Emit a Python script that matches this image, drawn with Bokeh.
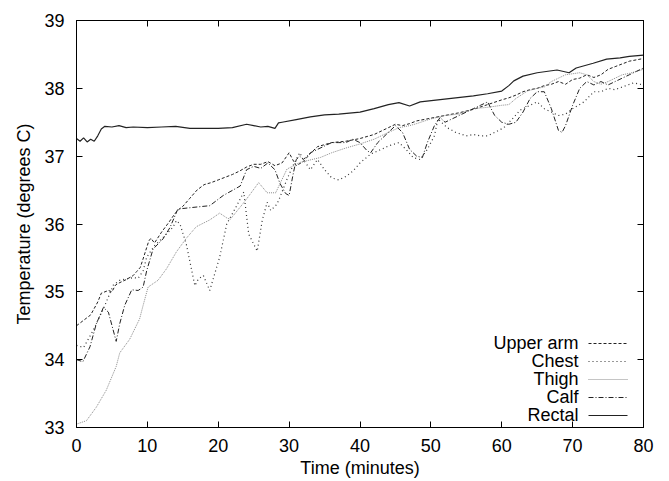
from bokeh.plotting import figure
from bokeh.models import (Range1d, LinearAxis, SingleIntervalTicker, Label, Arrow,
                          CustomLabelingPolicy)
from bokeh.embed import file_html
from bokeh.resources import INLINE

# ---- data ----
rectal_t = [0, 0.5, 1, 1.5, 2, 2.5, 3, 3.5, 4, 5, 6, 7, 8, 10, 12, 14, 16, 18, 20, 22, 24, 25, 26, 27, 28,
            28.5, 29, 31, 33, 35, 37, 40, 42, 44, 45.5, 47, 48.5, 51, 53.5, 56, 58, 60, 61, 61.7, 63, 65,
            67.8, 69.5, 70.5, 72.9, 74.8, 76.7, 78, 80]
rectal_v = [37.26, 37.22, 37.27, 37.21, 37.25, 37.22, 37.30, 37.40, 37.44, 37.43, 37.45, 37.42, 37.43, 37.42,
            37.43, 37.44, 37.41, 37.41, 37.41, 37.42, 37.47, 37.45, 37.43, 37.44, 37.41, 37.49, 37.50, 37.54,
            37.58, 37.61, 37.62, 37.65, 37.70, 37.76, 37.79, 37.74, 37.80, 37.83, 37.86, 37.89, 37.92, 37.96,
            38.04, 38.11, 38.18, 38.23, 38.27, 38.23, 38.30, 38.37, 38.43, 38.45, 38.47, 38.49]

upper_t = [0, 1, 2, 3, 3.5, 4.5, 5, 5.5, 6, 7, 8, 8.5, 9, 9.5, 10.2, 10.5, 11, 12, 13, 14, 14.5, 15, 16, 17,
           18, 19, 20, 21, 22, 23, 24, 25, 26, 27, 28, 29, 30, 30.5, 31, 32, 33, 34, 36, 38, 40, 42, 44, 45,
           46, 47, 48, 50, 52, 54, 56, 58, 60, 61, 62, 63, 64, 65, 66, 67, 68, 69, 70, 71, 72, 73, 74, 75,
           76, 77, 78, 79, 80]
upper_v = [34.5, 34.58, 34.66, 34.85, 34.98, 35.02, 35.0, 35.1, 35.13, 35.18, 35.24, 35.3, 35.36, 35.52,
           35.75, 35.79, 35.72, 35.88, 36.02, 36.17, 36.22, 36.26, 36.38, 36.5, 36.58, 36.61, 36.65, 36.69,
           36.73, 36.78, 36.84, 36.88, 36.88, 36.92, 36.86, 36.9, 37.05, 36.95, 36.86, 36.92, 37.04, 37.14,
           37.2, 37.22, 37.26, 37.32, 37.42, 37.47, 37.45, 37.48, 37.52, 37.56, 37.6, 37.64, 37.69, 37.76,
           37.83, 37.86, 37.9, 37.95, 37.98, 38.0, 38.04, 38.06, 38.1, 38.06, 38.13, 38.15, 38.2, 38.16,
           38.2, 38.28, 38.32, 38.36, 38.4, 38.42, 38.44]

chest_t = [0, 1, 2.3, 3.8, 5.2, 6.1, 8, 8.7, 9.4, 9.9, 11, 12.2, 13.6, 14.1, 14.6, 15.5, 16.7, 17.2, 17.9,
           18.8, 20.2, 21.2, 22.5, 23.6, 24.3, 25.5, 26.2, 26.9, 27.4, 28.1, 28.5, 29.7, 30.5, 31.5, 32, 33,
           34, 35, 36, 37, 38, 39, 40, 41.5, 43, 44, 45.5, 46.5, 47.5, 48.5, 49.5, 50.5, 51, 51.5, 52.3,
           53.5, 55, 56, 57, 58, 59, 60.3, 61.5, 62.6, 64, 65, 66, 67, 68, 69, 70, 71.6, 73, 74, 75, 76, 77,
           78.6, 80]
chest_v = [34.21, 34.18, 34.42, 34.75, 35.1, 35.17, 35.21, 35.2, 35.31, 35.51, 35.68, 35.8, 35.95, 36.05,
           36.0, 35.7, 35.09, 35.19, 35.24, 35.02, 35.51, 36.0, 36.25, 36.47, 35.85, 35.6, 36.05, 36.32, 36.2,
           36.27, 36.34, 36.66, 36.85, 37.05, 36.95, 36.8, 36.95, 36.8, 36.68, 36.65, 36.7, 36.78, 36.9,
           37.03, 37.1, 37.15, 37.2, 37.1, 36.98, 36.95, 37.1, 37.3, 37.55, 37.5, 37.42, 37.35, 37.3, 37.32,
           37.3, 37.3, 37.35, 37.42, 37.55, 37.68, 37.75, 37.8, 37.7, 37.65, 37.6, 37.62, 37.7, 37.8, 37.95,
           37.95, 38.0, 37.98, 38.02, 38.08, 38.05]

thigh_t = [0, 1.4, 2.8, 4.2, 5.6, 6.1, 7.5, 8.9, 9.4, 10.1, 11.5, 12.7, 14.1, 15.5, 16.9, 18.8, 20.2, 21.2,
           21.7, 23.8, 25.7, 26.9, 28.1, 29.7, 31.6, 34.4, 36, 38, 40, 42, 44, 45.5, 47, 48, 50, 52, 54, 56,
           58, 60, 61, 62, 63.6, 65, 66, 67, 68, 69, 71, 72, 73, 74, 75, 76, 77, 78, 79, 80]
thigh_v = [33.05, 33.1, 33.3, 33.55, 33.9, 34.1, 34.3, 34.6, 34.8, 35.07, 35.17, 35.34, 35.59, 35.79, 35.96,
           36.06, 36.16, 36.09, 36.07, 36.34, 36.61, 36.46, 36.46, 36.81, 36.91, 36.98, 37.05, 37.12, 37.18,
           37.25, 37.35, 37.42, 37.45, 37.48, 37.55, 37.6, 37.62, 37.7, 37.72, 37.75, 37.76, 37.85, 37.96,
           38.0, 38.02, 38.1, 38.15, 38.2, 38.23, 38.2, 38.1, 38.06, 38.1, 38.15, 38.2, 38.22, 38.25, 38.28]

calf_t = [0, 0.9, 1.9, 2.8, 3.8, 4.5, 5.6, 6.1, 6.8, 7.8, 8.7, 9.4, 9.9, 10.8, 12.2, 13.2, 14.3, 16, 18.8,
          20.7, 23.1, 24, 25, 26, 27, 28, 28.7, 29.5, 30, 30.5, 31, 31.5, 32, 33, 34, 35, 36, 37, 38, 39, 40,
          41, 41.5, 42.5, 43.8, 45, 46, 47, 48, 48.8, 49.5, 50.5, 51.3, 52, 53, 54, 55, 56, 57, 58, 59, 60,
          61, 62, 63, 64, 65, 66, 67, 68, 68.5, 69, 70, 71, 72, 73, 74, 75, 76, 77, 78, 79, 80]
calf_v = [34.0, 33.97, 34.19, 34.53, 34.77, 34.7, 34.27, 34.53, 34.8, 35.03, 35.02, 35.07, 35.31, 35.63,
          35.78, 35.95, 36.22, 36.24, 36.27, 36.42, 36.56, 36.8, 36.85, 36.82, 36.9, 36.8, 36.6, 36.45, 36.42,
          36.7, 36.95, 37.0, 36.95, 37.05, 37.1, 37.15, 37.2, 37.2, 37.2, 37.25, 37.2, 37.08, 37.05, 37.2,
          37.33, 37.45, 37.35, 37.1, 37.0, 36.98, 37.2, 37.45, 37.57, 37.5, 37.55, 37.6, 37.65, 37.7, 37.75,
          37.8, 37.6, 37.5, 37.47, 37.5, 37.65, 37.85, 37.95, 37.95, 37.7, 37.38, 37.35, 37.45, 37.75, 38.0,
          38.1, 38.05, 38.1, 38.05, 38.1, 38.15, 38.2, 38.25, 38.3]

series_names = ["Upper arm", "Chest", "Thigh", "Calf", "Rectal"]
series_t = [upper_t, chest_t, thigh_t, calf_t, rectal_t]
series_v = [upper_v, chest_v, thigh_v, calf_v, rectal_v]

x_ticks_interval = 10
y_ticks_interval = 1

# ---- styles ----
styles = [
    dict(line_color="#222222", line_dash="3 2", line_width=1),
    dict(line_color="#333333", line_dash="1 3", line_width=1.2),
    dict(line_color="#8a8a8a", line_dash="1 1", line_width=1),
    dict(line_color="#222222", line_dash="5 2 1 2", line_width=1),
    dict(line_color="#222222", line_dash="solid", line_width=1.2),
]
FONT = "Liberation Sans"
FS = "18px"

p = figure(frame_width=567, frame_height=407, output_backend="svg", toolbar_location=None,
           x_range=Range1d(0, 80), y_range=Range1d(33, 39),
           min_border_left=76, min_border_right=18, min_border_top=20, min_border_bottom=54)
p.background_fill_color = "white"
p.border_fill_color = "white"
p.outline_line_color = "black"
p.outline_line_width = 1
p.xgrid.visible = False
p.ygrid.visible = False

for t, v, st in zip(series_t, series_v, styles):
    p.line(t, v, **st)

hide_all = CustomLabelingPolicy(code="for (const i of indices) { indices.unset(i) } return indices")

def style_axis(ax, show_labels=True):
    ax.axis_line_color = "black"
    ax.major_tick_in = 6
    ax.major_tick_out = 0
    ax.minor_tick_line_color = None
    ax.major_tick_line_color = "black"
    ax.major_label_text_font = FONT
    ax.major_label_text_color = "black"
    ax.major_label_text_font_size = FS
    if not show_labels:
        ax.major_label_policy = hide_all
        ax.major_label_standoff = 0

p.xaxis.ticker = SingleIntervalTicker(interval=x_ticks_interval)
p.yaxis.ticker = SingleIntervalTicker(interval=y_ticks_interval)
style_axis(p.xaxis[0])
style_axis(p.yaxis[0])
p.xaxis.major_label_standoff = 7
p.yaxis.major_label_standoff = 8
p.xaxis.axis_label = "Time (minutes)"
p.yaxis.axis_label = "Temperature (degrees C)"
for ax in (p.xaxis[0], p.yaxis[0]):
    ax.axis_label_text_font = FONT
    ax.axis_label_text_font_size = FS
    ax.axis_label_text_font_style = "normal"
    ax.axis_label_text_color = "black"
p.xaxis.axis_label_standoff = 3
p.yaxis.axis_label_standoff = 7

top = LinearAxis(ticker=SingleIntervalTicker(interval=x_ticks_interval))
style_axis(top, show_labels=False)
p.add_layout(top, "above")
right = LinearAxis(ticker=SingleIntervalTicker(interval=y_ticks_interval))
style_axis(right, show_labels=False)
p.add_layout(right, "right")

# ---- gnuplot-style key (label, then sample), placed in screen units inside the frame ----
key_text_right = 502
key_line_x0 = 512
key_line_x1 = 551
key_top_center = 85
key_row_step = 18
for i, (name, st) in enumerate(zip(series_names, styles)):
    yc = key_top_center - i * key_row_step
    p.add_layout(Label(x=key_text_right, y=yc, x_units="screen", y_units="screen", text=name,
                       text_align="right", text_baseline="middle", text_font=FONT,
                       text_font_size=FS, text_color="black"))
    p.add_layout(Arrow(x_start=key_line_x0, y_start=yc - 1, x_end=key_line_x1, y_end=yc - 1,
                       start_units="screen", end_units="screen", end=None, start=None, **st))

open("out.html", "w").write(file_html(p, INLINE))
